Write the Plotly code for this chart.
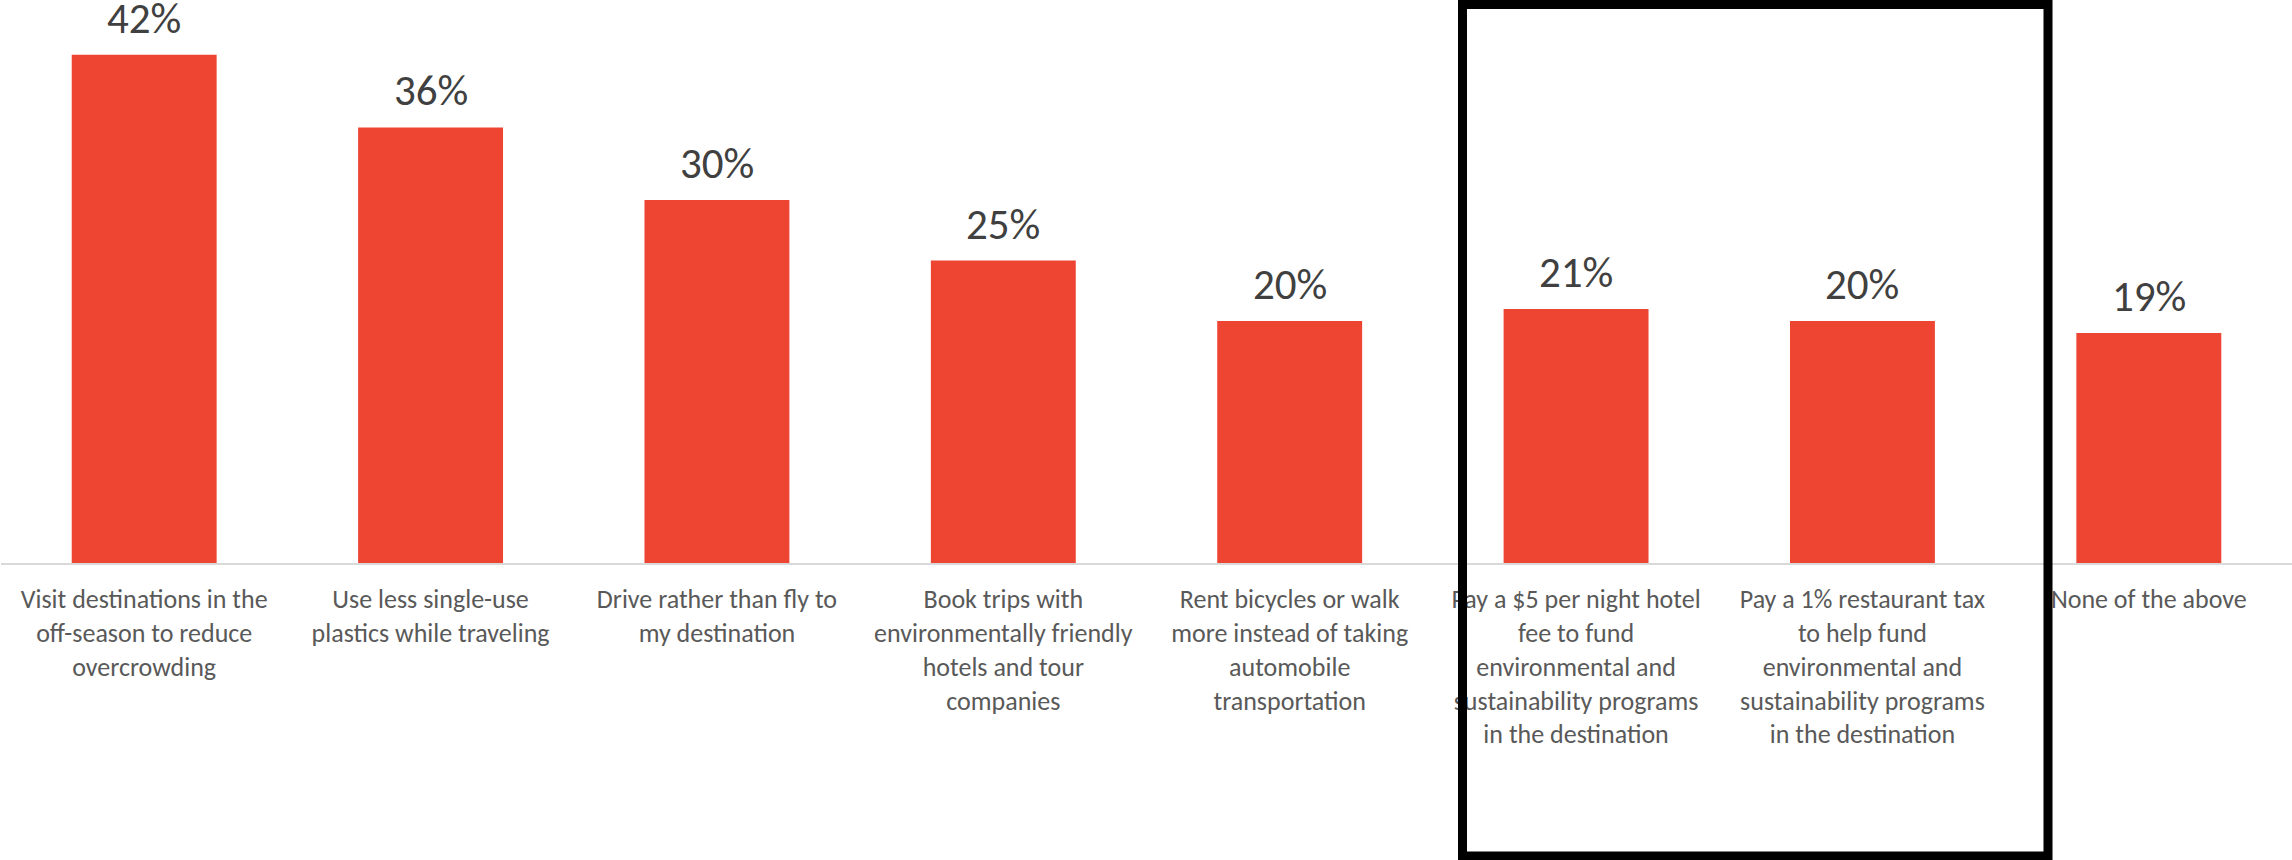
import plotly.graph_objects as go

categories = [
    "Visit destinations in the<br>off-season to reduce<br>overcrowding",
    "Use less single-use<br>plastics while traveling",
    "Drive rather than fly to<br>my destination",
    "Book trips with<br>environmentally friendly<br>hotels and tour<br>companies",
    "Rent bicycles or walk<br>more instead of taking<br>automobile<br>transportation",
    "Pay a $5 per night hotel<br>fee to fund<br>environmental and<br>sustainability programs<br>in the destination",
    "Pay a 1% restaurant tax<br>to help fund<br>environmental and<br>sustainability programs<br>in the destination",
    "None of the above",
]
values = [42, 36, 30, 25, 20, 21, 20, 19]
value_labels = ["42%", "36%", "30%", "25%", "20%", "21%", "20%", "19%"]

FONT = "Carlito, Lato, sans-serif"
W, H = 2292, 860
ML, MR, MT, MB = 1, 0, 0, 297
PW = W - ML - MR
PH = H - MT - MB

fig = go.Figure()
fig.add_trace(go.Bar(
    x=categories,
    y=values,
    marker=dict(color="#EE4432", line=dict(width=0)),
    hoverinfo="skip",
))

for c, v, t in zip(categories, values, value_labels):
    fig.add_annotation(
        x=c, y=v, text=t, showarrow=False,
        xanchor="center", yanchor="bottom", yshift=8,
        font=dict(family=FONT, size=43, color="#404040"),
    )

def px_x(p):
    return (p - ML) / PW

def px_y(p):
    return 1 - (p - MT) / PH

fig.add_shape(
    type="rect", xref="paper", yref="paper",
    x0=px_x(1462.5), x1=px_x(2048), y0=px_y(856), y1=px_y(4.5),
    line=dict(color="#000000", width=9), fillcolor="rgba(0,0,0,0)",
    layer="above",
)

fig.update_layout(
    width=W, height=H,
    margin=dict(l=ML, r=MR, t=MT, b=MB, pad=0),
    paper_bgcolor="white", plot_bgcolor="white",
    bargap=0.494,
    showlegend=False,
    font=dict(family=FONT, color="#595959"),
)
fig.update_xaxes(
    showline=True, linecolor="#D9D9D9", linewidth=2,
    showgrid=False, zeroline=False, ticks="",
    tickfont=dict(family=FONT, size=26, color="#595959"),
    ticklabelstandoff=12,
    automargin=False, tickangle=0,
)
fig.update_yaxes(
    range=[0, PH / 12.1], visible=False, showgrid=False, zeroline=False,
    automargin=False,
)

fig.write_html(
    "out.html",
    config={"displayModeBar": False},
    post_script="document.body.style.margin='0';document.body.style.overflow='hidden';",
)
